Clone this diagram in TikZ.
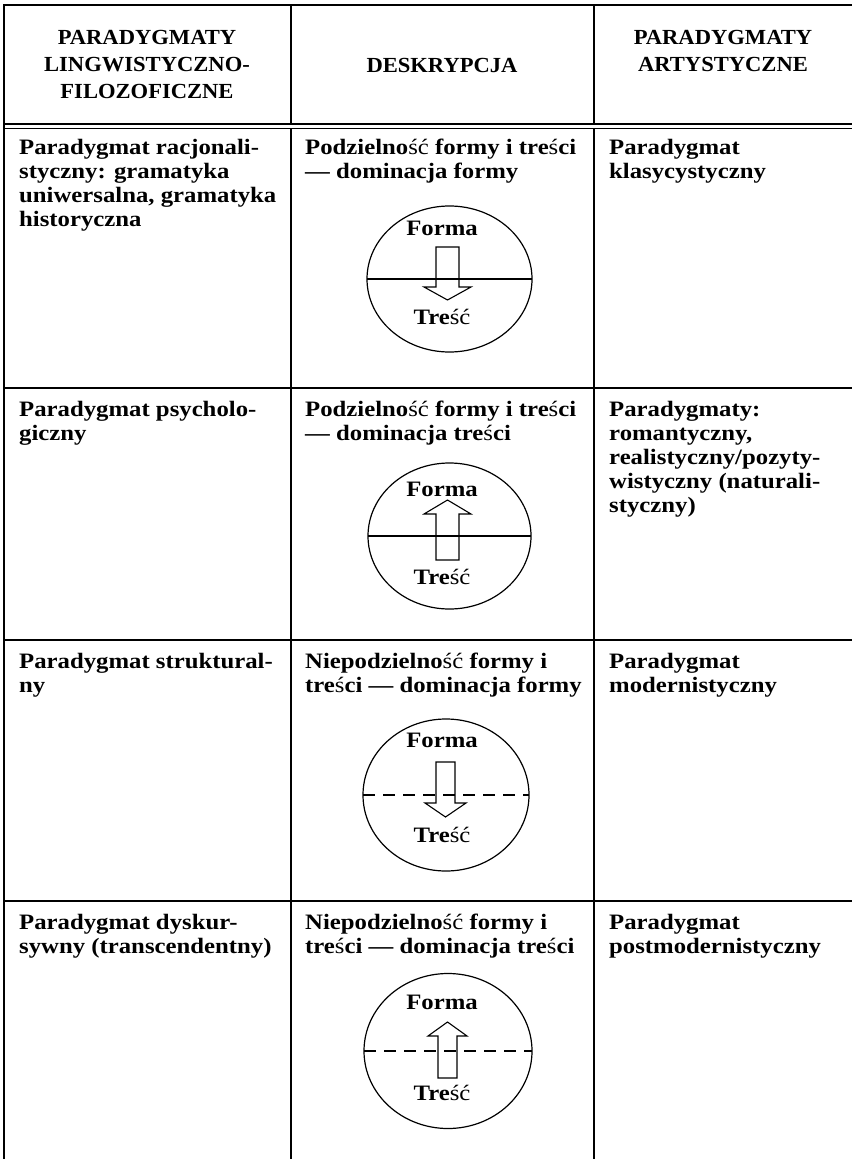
\documentclass[tikz,border=0pt]{standalone}
\usepackage{fontspec}
\usepackage{tikz}
\usetikzlibrary{shapes.geometric}
\newfontfamily\cellfont{Liberation Serif}[FakeStretch=1.125]
\newfontfamily\headfont{Liberation Serif}[FakeStretch=1.05]
\newcommand{\sacu}{{\mdseries ś}}
\newcommand{\cacu}{{\mdseries ć}}

\begin{document}
\begin{tikzpicture}[x=1pt, y=-1pt,
    rule/.style={line width=1.8pt},
    hrule/.style={line width=1.5pt},
    headcell/.style={align=center, inner sep=0pt, font=\headfont\bfseries\fontsize{21.5}{27}\selectfont},
    cell/.style={anchor=north west, align=left, inner sep=0pt, font=\cellfont\bfseries\fontsize{22}{24}\selectfont},
    partname/.style={inner sep=0pt, font=\cellfont\bfseries\fontsize{22}{24}\selectfont},
    disc/.style={draw, ellipse, line width=1.2pt, inner sep=0pt, outer sep=0pt},
    splitline/.style={line width=1.2pt},
    splitdash/.style={line width=1.2pt, dash pattern=on 12pt off 8pt},
    fatarrow/.style={line width=1.1pt, line join=miter}
]

\path[use as bounding box, fill=white] (0,0) rectangle (852,1159);

% Table rules
\draw[rule] (4,5) -- (852,5);
\draw[rule] (4,4) -- (4,1159);
\draw[rule] (291,5) -- (291,124);
\draw[rule] (291,128) -- (291,1159);
\draw[rule] (594,5) -- (594,124);
\draw[rule] (594,128) -- (594,1159);
\draw[hrule] (4,124) -- (852,124);
\draw[hrule] (4,128.3) -- (852,128.3);
\draw[hrule] (4,388) -- (852,388);
\draw[hrule] (4,640) -- (852,640);
\draw[hrule] (4,901) -- (852,901);

% Header
\node[headcell, anchor=north] (lingHead) at (147,30) {PARADYGMATY\\LINGWISTYCZNO-\\FILOZOFICZNE};
\node[headcell] (descHead) at (442,65) {DESKRYPCJA};
\node[headcell, anchor=north] (artHead) at (723,30) {PARADYGMATY\\ARTYSTYCZNE};

% Row 1: racjonalistyczny
\node[cell] (ling1) at (19,139) {Paradygmat racjonali-\\styczny: gramatyka\\uniwersalna, gramatyka\\historyczna};
\node[cell] (desc1) at (305,139) {Podzielno\sacu\cacu{} formy i tre\sacu ci\\— dominacja formy};
\node[cell] (art1) at (609,139) {Paradygmat\\klasycystyczny};

\node[disc, minimum width=165pt, minimum height=146pt] (disc1) at (449.5,279) {};
\draw[splitline] (disc1.west) -- (disc1.east);
\draw[fatarrow] (436,247) -- (459,247) -- (459,287) -- (471,287) -- (447.5,300) -- (424,287) -- (436,287) -- cycle;
\node[partname] (forma1) at (442,228) {Forma};
\node[partname] (tresc1) at (442,317) {Tre\sacu\cacu};

% Row 2: psychologiczny
\node[cell] (ling2) at (19,401) {Paradygmat psycholo-\\giczny};
\node[cell] (desc2) at (305,401) {Podzielno\sacu\cacu{} formy i tre\sacu ci\\— dominacja tre\sacu ci};
\node[cell] (art2) at (609,401) {Paradygmaty:\\romantyczny,\\realistyczny/pozyty-\\wistyczny (naturali-\\styczny)};

\node[disc, minimum width=163pt, minimum height=146pt] (disc2) at (449.5,536) {};
\draw[splitline] (disc2.west) -- (disc2.east);
\draw[fatarrow] (436,560) -- (459,560) -- (459,514) -- (471,514) -- (447.5,500) -- (424,514) -- (436,514) -- cycle;
\node[partname] (forma2) at (442,489) {Forma};
\node[partname] (tresc2) at (442,577) {Tre\sacu\cacu};

% Row 3: strukturalny
\node[cell] (ling3) at (19,653) {Paradygmat struktural-\\ny};
\node[cell] (desc3) at (305,653) {Niepodzielno\sacu\cacu{} formy i\\tre\sacu ci — dominacja formy};
\node[cell] (art3) at (609,653) {Paradygmat\\modernistyczny};

\node[disc, minimum width=166pt, minimum height=152pt] (disc3) at (446,795) {};
\draw[splitdash] (disc3.west) -- (disc3.east);
\draw[fatarrow] (436,762) -- (455,762) -- (455,803) -- (466,803) -- (445.5,817) -- (425,803) -- (436,803) -- cycle;
\node[partname] (forma3) at (442,740) {Forma};
\node[partname] (tresc3) at (442,835) {Tre\sacu\cacu};

% Row 4: dyskursywny
\node[cell] (ling4) at (19,914) {Paradygmat dyskur-\\sywny (transcendentny)};
\node[cell] (desc4) at (305,914) {Niepodzielno\sacu\cacu{} formy i\\tre\sacu ci — dominacja tre\sacu ci};
\node[cell] (art4) at (609,914) {Paradygmat\\postmodernistyczny};

\node[disc, minimum width=168pt, minimum height=155pt] (disc4) at (448,1051) {};
\draw[splitdash] (disc4.west) -- (disc4.east);
\draw[fatarrow] (438,1078) -- (457,1078) -- (457,1036) -- (467,1036) -- (447.5,1022) -- (428,1036) -- (438,1036) -- cycle;
\node[partname] (forma4) at (442,1002) {Forma};
\node[partname] (tresc4) at (442,1093) {Tre\sacu\cacu};

\end{tikzpicture}
\end{document}
